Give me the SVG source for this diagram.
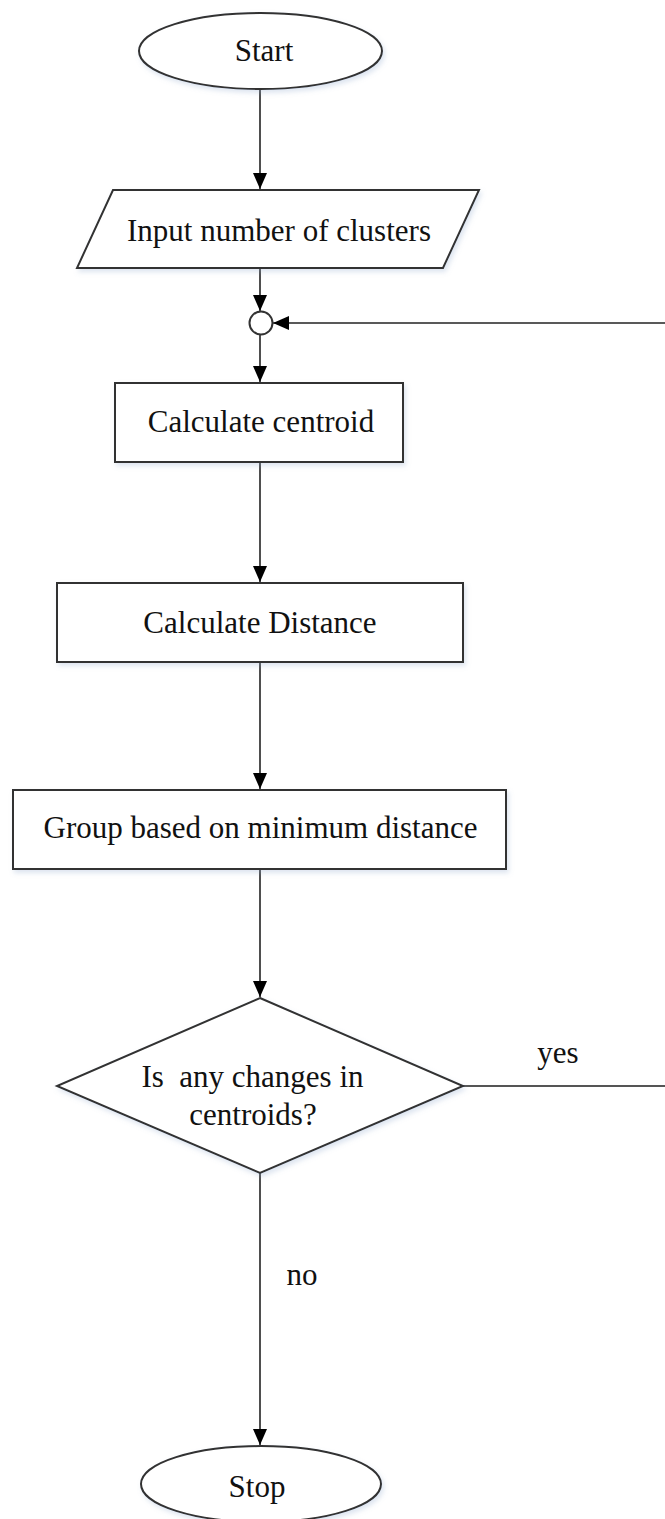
<svg xmlns="http://www.w3.org/2000/svg" width="665" height="1519" viewBox="0 0 665 1519">
  <defs>
    <style>
      .shape { fill: #ffffff; stroke: #333333; stroke-width: 2; filter: url(#shadow); }
      .label { font-family: "Liberation Serif", "Times New Roman", serif; font-size: 31px; fill: #111111; text-anchor: middle; }
      .edge { fill: none; stroke: #222222; stroke-width: 1.6; }
      .edge2 { fill: none; stroke: #555555; stroke-width: 2.2; }
    </style>
    <filter id="shadow" x="-10%" y="-10%" width="125%" height="130%">
      <feDropShadow dx="2" dy="3" stdDeviation="2.5" flood-color="#8fa8cc" flood-opacity="0.3"/>
    </filter>
    <marker id="arrow" viewBox="0 0 16 14" refX="16" refY="7" markerWidth="16" markerHeight="14" markerUnits="userSpaceOnUse" orient="auto">
      <path d="M0,0 L16,7 L0,14 z" fill="#000000"/>
    </marker>
  </defs>
  <rect width="665" height="1519" fill="#ffffff"/>

  <g id="connectors">
    <line class="edge" x1="260" y1="89" x2="260" y2="189" marker-end="url(#arrow)"/>
    <line class="edge" x1="260" y1="268" x2="260" y2="311" marker-end="url(#arrow)"/>
    <line class="edge" x1="260" y1="335" x2="260" y2="382" marker-end="url(#arrow)"/>
    <line class="edge" x1="260" y1="462" x2="260" y2="582" marker-end="url(#arrow)"/>
    <line class="edge" x1="260" y1="662" x2="260" y2="789" marker-end="url(#arrow)"/>
    <line class="edge" x1="260" y1="869" x2="260" y2="997" marker-end="url(#arrow)"/>
    <line class="edge" x1="260" y1="1173" x2="260" y2="1445" marker-end="url(#arrow)"/>
    <path class="edge2" d="M463,1086 L668,1086 L668,323"/>
    <line class="edge" x1="668" y1="323" x2="273" y2="323" marker-end="url(#arrow)"/>
    <text class="label" x="558" y="1063">yes</text>
    <text class="label" x="302" y="1285">no</text>
  </g>

  <g id="start">
    <ellipse class="shape" cx="260.5" cy="51" rx="121.5" ry="38"/>
    <text class="label" x="264" y="61">Start</text>
  </g>

  <g id="input">
    <polygon class="shape" points="113,190 479,190 443,268 77,268"/>
    <text class="label" x="279" y="241">Input number of clusters</text>
  </g>

  <g id="junction">
    <circle cx="261" cy="323" r="11.5" fill="#ffffff" stroke="#333333" stroke-width="2"/>
  </g>

  <g id="calc-centroid">
    <rect class="shape" x="115" y="383" width="288" height="79"/>
    <text class="label" x="261" y="432">Calculate centroid</text>
  </g>

  <g id="calc-distance">
    <rect class="shape" x="57" y="583" width="406" height="79"/>
    <text class="label" x="260" y="633">Calculate Distance</text>
  </g>

  <g id="group">
    <rect class="shape" x="13" y="790" width="493" height="79"/>
    <text class="label" x="260.5" y="838">Group based on minimum distance</text>
  </g>

  <g id="decision">
    <polygon class="shape" points="260,998 463,1086 260,1173 57,1086"/>
    <text class="label" x="252.5" y="1087" xml:space="preserve">Is  any changes in</text>
    <text class="label" x="253" y="1125">centroids?</text>
  </g>

  <g id="stop">
    <ellipse class="shape" cx="261" cy="1484" rx="120" ry="38"/>
    <text class="label" x="257" y="1497">Stop</text>
  </g>
</svg>
